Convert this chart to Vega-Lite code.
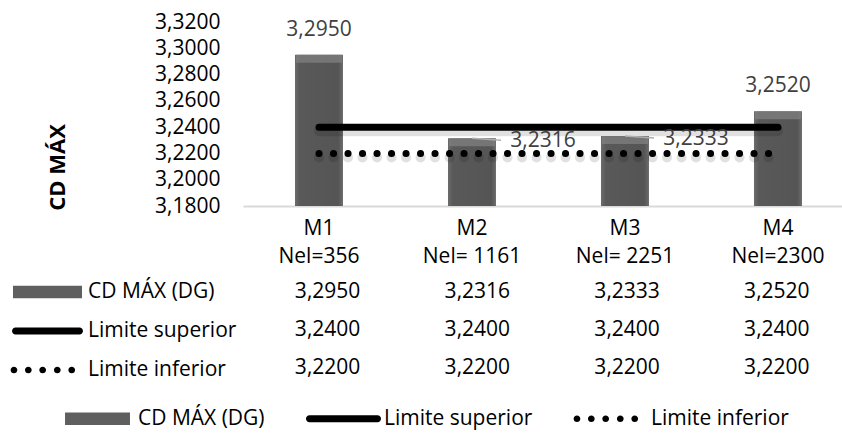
{
  "$schema": "https://vega.github.io/schema/vega-lite/v6.json",
  "background": "white",
  "padding": {"left": 12, "top": 11, "right": 0, "bottom": 4},
  "bounds": "flush",
  "spacing": 67,
  "config": {
    "font": "Open Sans",
    "view": {"stroke": null},
    "locale": {
      "number": {"decimal": ",", "thousands": ".", "grouping": [3], "currency": ["", " €"]}
    }
  },
  "datasets": {
    "tabela": [
      {"cat": "M1\nNel=356", "series": "CD MÁX (DG)", "value": 3.295},
      {"cat": "M1\nNel=356", "series": "Limite superior", "value": 3.24},
      {"cat": "M1\nNel=356", "series": "Limite inferior", "value": 3.22},
      {"cat": "M2\nNel= 1161", "series": "CD MÁX (DG)", "value": 3.2316},
      {"cat": "M2\nNel= 1161", "series": "Limite superior", "value": 3.24},
      {"cat": "M2\nNel= 1161", "series": "Limite inferior", "value": 3.22},
      {"cat": "M3\nNel= 2251", "series": "CD MÁX (DG)", "value": 3.2333},
      {"cat": "M3\nNel= 2251", "series": "Limite superior", "value": 3.24},
      {"cat": "M3\nNel= 2251", "series": "Limite inferior", "value": 3.22},
      {"cat": "M4\nNel=2300", "series": "CD MÁX (DG)", "value": 3.252},
      {"cat": "M4\nNel=2300", "series": "Limite superior", "value": 3.24},
      {"cat": "M4\nNel=2300", "series": "Limite inferior", "value": 3.22}
    ]
  },
  "resolve": {
    "scale": {"x": "independent", "y": "independent", "color": "independent", "strokeDash": "independent"},
    "legend": {"color": "independent"}
  },
  "vconcat": [
    {
      "width": 599,
      "height": 184,
      "data": {"name": "tabela"},
      "encoding": {
        "x": {
          "field": "cat",
          "type": "nominal",
          "sort": null,
          "scale": {"paddingInner": 0.6863, "paddingOuter": 0.3007, "align": 0.565},
          "axis": {
            "title": null,
            "labelAngle": 0,
            "labelExpr": "split(datum.value, '\\n')",
            "labelFontSize": 21,
            "labelColor": "#000000",
            "labelLineHeight": 28,
            "labelBaseline": "top",
            "labelPadding": 11,
            "ticks": false,
            "grid": false,
            "domainColor": "#d9d9d9",
            "domainWidth": 2
          }
        }
      },
      "layer": [
        {
          "transform": [{"filter": "datum.series === 'CD MÁX (DG)'"}],
          "mark": {
            "type": "bar",
            "clip": true,
            "color": {
              "gradient": "linear", "x1": 0, "y1": 0, "x2": 1, "y2": 0,
              "stops": [
                {"offset": 0, "color": "#6c6c6c"},
                {"offset": 0.1, "color": "#595959"},
                {"offset": 0.9, "color": "#555555"},
                {"offset": 1, "color": "#6c6c6c"}
              ]
            }
          },
          "encoding": {
            "y": {
              "field": "value",
              "type": "quantitative",
              "scale": {"domain": [3.18, 3.32], "zero": false, "nice": false},
              "axis": {
                "title": "CD MÁX",
                "values": [3.18, 3.2, 3.22, 3.24, 3.26, 3.28, 3.3, 3.32],
                "tickCount": 20,
                "format": ".4f",
                "labelFontSize": 21,
                "labelColor": "#000000",
                "labelPadding": 23,
                "labelOverlap": false,
                "ticks": false,
                "domain": false,
                "grid": false,
                "titleFontSize": 22,
                "titleFontWeight": "bold",
                "titleColor": "#000000",
                "titleX": -186,
                "titleY": 145,
                "titleBaseline": "middle",
                "titleAlign": "center"
              }
            }
          }
        },
        {
          "transform": [{"filter": "datum.series === 'CD MÁX (DG)'"}],
          "mark": {"type": "tick", "thickness": 8, "size": 46, "yOffset": 4, "color": "#838383"},
          "encoding": {"y": {"field": "value", "type": "quantitative"}}
        },
        {
          "transform": [{"filter": "datum.series !== 'CD MÁX (DG)'"}],
          "mark": {"type": "line", "strokeWidth": 10, "strokeCap": "round", "color": "#000000", "opacity": 0.12, "yOffset": 4},
          "encoding": {
            "y": {"field": "value", "type": "quantitative"},
            "strokeDash": {
              "field": "series",
              "scale": {"domain": ["Limite superior", "Limite inferior"], "range": [[1, 0], [0.1, 14.4]]},
              "legend": null
            }
          }
        },
        {
          "transform": [{"filter": "datum.series !== 'CD MÁX (DG)'"}],
          "mark": {"type": "line", "strokeWidth": 7, "strokeCap": "round", "color": "#000000"},
          "encoding": {
            "y": {"field": "value", "type": "quantitative"},
            "strokeDash": {"field": "series", "legend": null}
          }
        },
        {
          "transform": [{"filter": "false"}],
          "mark": {"type": "line", "strokeWidth": 0},
          "encoding": {
            "y": {"field": "value", "type": "quantitative"},
            "color": {
              "field": "series",
              "scale": {"domain": ["CD MÁX (DG)", "Limite superior", "Limite inferior"], "range": ["transparent", "transparent", "transparent"]},
              "legend": {
                "orient": "none",
                "legendX": -181,
                "legendY": 386,
                "direction": "horizontal",
                "columns": 3,
                "title": null,
                "padding": 0,
                "labelFontSize": 21,
                "labelColor": "#000000",
                "labelOffset": 30,
                "columnPadding": 40,
                "symbolSize": 196,
                "symbolOffset": 25,
                "symbolStrokeWidth": 0,
                "symbolOpacity": 1,
                "symbolFillColor": {"expr": "datum.value === 'CD MÁX (DG)' ? '#5f5f5f' : '#000000'"},
                "symbolType": {"expr": "datum.value === 'CD MÁX (DG)' ? 'M-4.64,-0.91H4.64V0.91H-4.64Z' : datum.value === 'Limite superior' ? 'M-4.86,-0.5H4.86A0.5,0.5 0 0,1 4.86,0.5H-4.86A0.5,0.5 0 0,1 -4.86,-0.5Z' : 'M-5.27,0a0.48,0.48 0 1,0 0.96,0a0.48,0.48 0 1,0 -0.96,0ZM-3.22,0a0.48,0.48 0 1,0 0.96,0a0.48,0.48 0 1,0 -0.96,0ZM-1.17,0a0.48,0.48 0 1,0 0.96,0a0.48,0.48 0 1,0 -0.96,0ZM0.92,0a0.48,0.48 0 1,0 0.96,0a0.48,0.48 0 1,0 -0.96,0ZM2.98,0a0.48,0.48 0 1,0 0.96,0a0.48,0.48 0 1,0 -0.96,0Z'"}
              }
            }
          }
        },
        {
          "transform": [{"filter": "datum.series === 'CD MÁX (DG)' && datum.value >= 3.24"}],
          "mark": {"type": "text", "fontSize": 21, "color": "#404040", "baseline": "middle", "dy": -25},
          "encoding": {
            "y": {"field": "value", "type": "quantitative"},
            "text": {"field": "value", "type": "quantitative", "format": ".4f"}
          }
        },
        {
          "transform": [{"filter": "datum.series === 'CD MÁX (DG)' && datum.value < 3.24"}],
          "mark": {"type": "rule", "color": "#b0b0b0", "strokeWidth": 1.5, "x2Offset": 29, "y2Offset": 2},
          "encoding": {
            "x": {"field": "cat", "type": "nominal", "sort": null},
            "x2": {"field": "cat"},
            "y": {"field": "value", "type": "quantitative"},
            "y2": {"field": "value"}
          }
        },
        {
          "transform": [{"filter": "datum.series === 'CD MÁX (DG)' && datum.value < 3.24"}],
          "mark": {"type": "text", "fontSize": 21, "color": "#404040", "baseline": "middle", "dx": 71, "dy": 3},
          "encoding": {
            "y": {"field": "value", "type": "quantitative"},
            "text": {"field": "value", "type": "quantitative", "format": ".4f"}
          }
        }
      ]
    },
    {
      "width": 599,
      "height": 114,
      "data": {"name": "tabela"},
      "encoding": {
        "x": {
          "field": "cat",
          "type": "nominal",
          "sort": null,
          "scale": {"paddingInner": 0.6863, "paddingOuter": 0.3007, "align": 0.565},
          "axis": null
        },
        "y": {
          "field": "series",
          "type": "nominal",
          "sort": ["CD MÁX (DG)", "Limite superior", "Limite inferior"],
          "scale": {"paddingInner": 0, "paddingOuter": 0},
          "axis": null
        }
      },
      "layer": [
        {
          "mark": {"type": "text", "fontSize": 21, "baseline": "middle", "color": "#000000"},
          "encoding": {
            "text": {"field": "value", "type": "quantitative", "format": ".4f"}
          }
        },
        {
          "transform": [{"filter": "false"}],
          "mark": {"type": "line", "strokeWidth": 0},
          "encoding": {
            "color": {
              "field": "series",
              "scale": {"domain": ["CD MÁX (DG)", "Limite superior", "Limite inferior"], "range": ["transparent", "transparent", "transparent"]},
              "legend": {
                "orient": "none",
                "legendX": -231,
                "legendY": 8.5,
                "direction": "vertical",
                "title": null,
                "padding": 0,
                "labelFontSize": 21,
                "labelColor": "#000000",
                "labelOffset": 30,
                "rowPadding": 17,
                "symbolSize": 196,
                "symbolOffset": 25,
                "symbolStrokeWidth": 0,
                "symbolOpacity": 1,
                "symbolFillColor": {"expr": "datum.value === 'CD MÁX (DG)' ? '#5f5f5f' : '#000000'"},
                "symbolType": {"expr": "datum.value === 'CD MÁX (DG)' ? 'M-4.93,-0.91H4.93V0.91H-4.93Z' : datum.value === 'Limite superior' ? 'M-4.57,-0.5H4.57A0.5,0.5 0 0,1 4.57,0.5H-4.57A0.5,0.5 0 0,1 -4.57,-0.5Z' : 'M-5.27,0a0.48,0.48 0 1,0 0.96,0a0.48,0.48 0 1,0 -0.96,0ZM-3.22,0a0.48,0.48 0 1,0 0.96,0a0.48,0.48 0 1,0 -0.96,0ZM-1.17,0a0.48,0.48 0 1,0 0.96,0a0.48,0.48 0 1,0 -0.96,0ZM0.92,0a0.48,0.48 0 1,0 0.96,0a0.48,0.48 0 1,0 -0.96,0ZM2.98,0a0.48,0.48 0 1,0 0.96,0a0.48,0.48 0 1,0 -0.96,0Z'"}
              }
            }
          }
        }
      ]
    }
  ]
}
